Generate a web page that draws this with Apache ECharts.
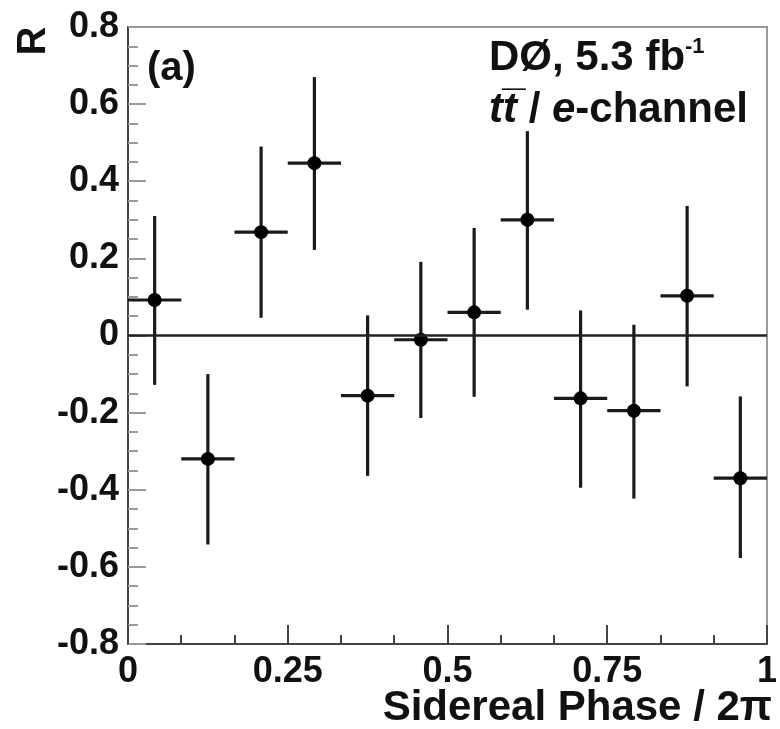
<!DOCTYPE html>
<html>
<head>
<meta charset="utf-8">
<script src="https://cdn.jsdelivr.net/npm/echarts@6/dist/echarts.min.js"></script>
<style>
  html, body { margin: 0; padding: 0; background: #fff; }
  #main { width: 780px; height: 729px; }
</style>
</head>
<body>
<div id="main"></div>
<script>
// bins of sidereal phase, 12 of them
var binCenters = [0.0417, 0.125, 0.2083, 0.2917, 0.375, 0.4583, 0.5417, 0.625, 0.7083, 0.7917, 0.875, 0.9583];
var binHalfWidth = [0.0417, 0.0417, 0.0417, 0.0417, 0.0417, 0.0417, 0.0417, 0.0417, 0.0417, 0.0417, 0.0417, 0.0417];
var rValues = [0.092, -0.32, 0.268, 0.447, -0.156, -0.011, 0.060, 0.300, -0.163, -0.195, 0.103, -0.370];
var errUp = [0.218, 0.220, 0.222, 0.223, 0.208, 0.202, 0.219, 0.230, 0.228, 0.223, 0.233, 0.212];
var errDown = [0.220, 0.222, 0.222, 0.225, 0.208, 0.203, 0.219, 0.233, 0.232, 0.228, 0.235, 0.207];

var xTicks = [0, 0.25, 0.5, 0.75, 1];
var xTickText = ['0', '0.25', '0.5', '0.75', '1'];

var chart = echarts.init(document.getElementById('main'));

var pts = [];
for (var i = 0; i < rValues.length; i++) {
  pts.push([binCenters[i], rValues[i], rValues[i] - errDown[i], rValues[i] + errUp[i], binHalfWidth[i]]);
}

function renderPoint(params, api) {
  var x = api.value(0), y = api.value(1);
  var lo = api.value(2), hi = api.value(3), hw = api.value(4);
  var c = api.coord([x, y]);
  var l = api.coord([x - hw, y]);
  var r = api.coord([x + hw, y]);
  var t = api.coord([x, hi]);
  var b = api.coord([x, lo]);
  var st = { stroke: '#1a1a1a', lineWidth: 3.2 };
  return {
    type: 'group',
    children: [
      { type: 'line', shape: { x1: l[0], y1: c[1], x2: r[0], y2: c[1] }, style: st },
      { type: 'line', shape: { x1: c[0], y1: t[1], x2: c[0], y2: b[1] }, style: st },
      { type: 'circle', shape: { cx: c[0], cy: c[1], r: 7 }, style: { fill: '#000' } }
    ]
  };
}

var font = 'Liberation Sans, Arial, Helvetica, sans-serif';

var option = {
  backgroundColor: '#fff',
  animation: false,
  grid: {
    left: 128, right: 12, top: 27, bottom: 85,
    show: true, borderColor: '#999', borderWidth: 2, backgroundColor: '#fff'
  },
  xAxis: {
    type: 'value', min: 0, max: 1, interval: 0.25,
    axisLine: { onZero: false, lineStyle: { color: '#444', width: 2 } },
    axisTick: { inside: true, length: 19, lineStyle: { color: '#444', width: 2 } },
    minorTick: { show: true, splitNumber: 3, length: 9, lineStyle: { color: '#444', width: 2 } },
    splitLine: { show: false },
    axisLabel: {
      margin: 10, color: '#111', fontFamily: font, fontWeight: 'bold', fontSize: 36,
      formatter: function (v) {
        var k = xTicks.indexOf(Math.round(v * 100) / 100);
        return k >= 0 ? xTickText[k] : '';
      }
    }
  },
  yAxis: {
    type: 'value', min: -0.8, max: 0.8, interval: 0.2,
    axisLine: { show: true, onZero: false, lineStyle: { color: '#444', width: 2 } },
    axisTick: { show: true, inside: true, length: 18, lineStyle: { color: '#999', width: 2 } },
    minorTick: { show: true, splitNumber: 4, length: 10, lineStyle: { color: '#999', width: 2 } },
    splitLine: { show: false },
    axisLabel: {
      margin: 9, color: '#111', fontFamily: font, fontWeight: 'bold', fontSize: 36,
      formatter: function (v) { return String(Number(v.toFixed(1))); }
    }
  },
  series: [
    {
      type: 'line',
      data: [[0, 0], [1, 0]],
      symbol: 'none',
      lineStyle: { color: '#222', width: 2.5 },
      silent: true
    },
    {
      type: 'custom',
      renderItem: renderPoint,
      data: pts,
      encode: { x: 0, y: [1, 2, 3] },
      z: 3
    }
  ],
  graphic: [
    {
      type: 'text', x: 34, y: 41, rotation: Math.PI / 2,
      style: { text: 'R', font: 'bold 40px ' + font, fill: '#111', align: 'center', verticalAlign: 'middle' }
    },
    {
      type: 'text', x: 147, y: 69,
      style: { text: '(a)', font: 'bold 40px ' + font, fill: '#111', verticalAlign: 'middle' }
    },
    {
      type: 'text', x: 489, y: 80,
      style: {
        text: '{a|DØ, 5.3 fb}{s|-1}',
        verticalAlign: 'bottom',
        rich: {
          a: { fontFamily: font, fontWeight: 'bold', fontSize: 42, fill: '#111' },
          s: { fontFamily: font, fontWeight: 'bold', fontSize: 22, fill: '#111', padding: [0, 0, 22, 0] }
        }
      }
    },
    {
      type: 'text', x: 489, y: 131,
      style: {
        text: '{i|tt\u0305}{a| / }{i|e}{a|-channel}',
        verticalAlign: 'bottom',
        rich: {
          a: { fontFamily: font, fontWeight: 'bold', fontSize: 42, fill: '#111' },
          i: { fontFamily: font, fontWeight: 'bold', fontStyle: 'italic', fontSize: 42, fill: '#111' }
        }
      }
    },
    {
      type: 'text', x: 772, y: 729,
      style: { text: 'Sidereal Phase / 2π', font: 'bold 42px ' + font, fill: '#111', align: 'right', verticalAlign: 'bottom' }
    }
  ]
};

chart.setOption(option);
</script>
</body>
</html>
